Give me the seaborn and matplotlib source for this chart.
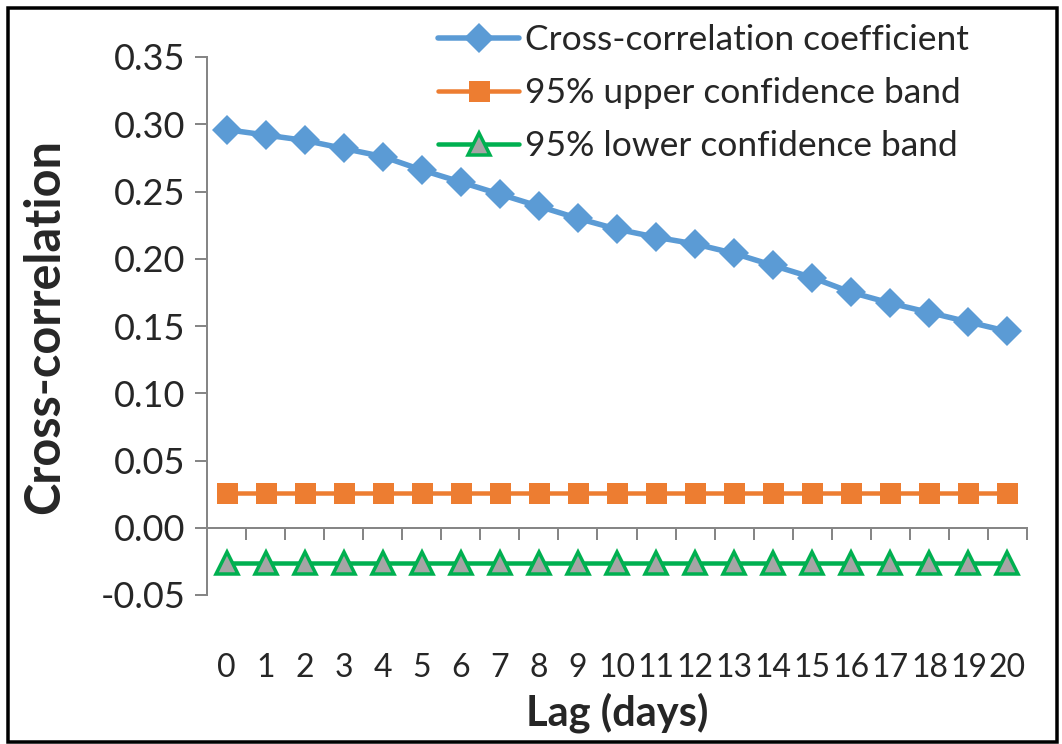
import matplotlib
matplotlib.use("Agg")
import matplotlib.pyplot as plt
from matplotlib import font_manager
from matplotlib.patches import Rectangle
from matplotlib.ticker import FixedLocator
import seaborn as sns
import pandas as pd

lags = list(range(21))
cross_corr = [0.296, 0.292, 0.288, 0.282, 0.276, 0.266, 0.257, 0.248, 0.239, 0.230,
              0.222, 0.216, 0.211, 0.204, 0.195, 0.186, 0.175, 0.167, 0.160, 0.153, 0.146]
upper_band = [0.026] * 21
lower_band = [-0.026] * 21
series_names = ["Cross-correlation coefficient", "95% upper confidence band",
                "95% lower confidence band"]
y_ticks = [-0.05, 0.00, 0.05, 0.10, 0.15, 0.20, 0.25, 0.30, 0.35]

sns.set_style("white")
avail = {f.name for f in font_manager.fontManager.ttflist}
fam = [f for f in ["Liberation Sans Narrow", "Lato", "DejaVu Sans"] if f in avail]
plt.rcParams["font.family"] = fam

W, H = 1062, 744
fig = plt.figure(figsize=(W / 100, H / 100), dpi=100)
ax = fig.add_axes([207 / W, 1 - 595 / H, (1027 - 207) / W, (595 - 57) / H])

df = pd.DataFrame({"lag": lags, "cc": cross_corr, "up": upper_band, "lo": lower_band})
px = 0.72
sns.lineplot(data=df, x="lag", y="cc", ax=ax, color="#5B9BD5", lw=5.5 * px,
             marker="D", markersize=21 * px, markeredgewidth=0, label=series_names[0])
sns.lineplot(data=df, x="lag", y="up", ax=ax, color="#ED7D31", lw=4.5 * px,
             marker="s", markersize=21 * px, markeredgewidth=0, label=series_names[1])
sns.lineplot(data=df, x="lag", y="lo", ax=ax, color="#00B050", lw=4.5 * px,
             marker="^", markersize=22 * px, markerfacecolor="#A5A5A5",
             markeredgecolor="#00B050", markeredgewidth=3.5 * px, label=series_names[2])

ax.set_xlim(-0.5, 20.5)
ax.set_ylim(-0.05, 0.35)
ax.set_yticks(y_ticks)
ax.set_yticklabels([f"{v:.2f}" for v in y_ticks])
ax.set_xticks(lags)
ax.set_xticklabels([str(l) for l in lags])
ax.xaxis.set_minor_locator(FixedLocator([l + 0.5 for l in lags]))

gray = "#868686"
for s in ["top", "right"]:
    ax.spines[s].set_visible(False)
ax.spines["bottom"].set_position(("data", 0))
ax.spines["bottom"].set_color(gray)
ax.spines["left"].set_color(gray)
ax.spines["bottom"].set_linewidth(2 * px)
ax.spines["left"].set_linewidth(2 * px)

ax.tick_params(axis="y", which="major", direction="out", length=12 * px, width=2 * px,
               color=gray, labelsize=26, pad=7, left=True)
ax.tick_params(axis="x", which="major", length=0, pad=90, labelsize=23, bottom=True)
ax.tick_params(axis="x", which="minor", direction="out", length=12 * px, width=2 * px,
               color=gray, bottom=True)

ax.set_ylabel("Cross-correlation", fontsize=35, fontweight="bold")
ax.set_xlabel("Lag (days)", fontsize=30, fontweight="bold")
ax.yaxis.set_label_coords(-0.198, 0.5)
ax.xaxis.set_label_coords(0.5, -0.219)
ax.xaxis.label.set_va("center")
ax.yaxis.label.set_va("center")

ax.legend(loc="upper left", bbox_to_anchor=(438 / W, 1 - 24 / H),
          bbox_transform=fig.transFigure, frameon=False, fontsize=25.5,
          handlelength=2.3, handletextpad=0.15, labelspacing=0.6, borderpad=0,
          borderaxespad=0)

fig.add_artist(Rectangle((8 / W, 2 / H), (1057 - 8) / W, (736 - 2) / H,
                         transform=fig.transFigure, fill=False, ec="black", lw=3.5 * px))

fig.savefig("out.png", dpi=100, facecolor="white")
